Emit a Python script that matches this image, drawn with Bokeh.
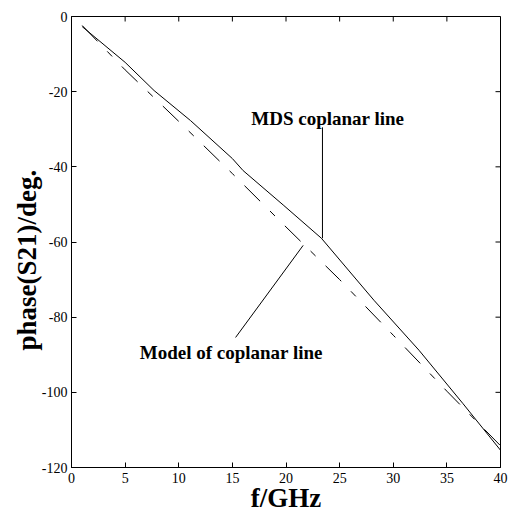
import math
from bokeh.plotting import figure
from bokeh.models import FixedTicker, Range1d, Title
from bokeh.core.properties import value
from bokeh.embed import file_html
from bokeh.resources import INLINE

# MDS coplanar line (solid)
mds_f = [1.0, 5.0, 7.7, 11.1, 15.0, 16.0, 19.8, 23.3, 28.2, 32.4, 36.5, 40.0]
mds_phase = [-2.7, -12.2, -19.7, -27.7, -37.8, -41.0, -50.3, -59.0, -75.5, -88.8, -103.0, -115.4]

# Model of coplanar line (dashed)
model_f = [1, 5, 10, 15, 20, 25, 30, 35, 40]
model_phase = [-2.4, -14.2, -27.9, -41.8, -56.0, -70.0, -84.8, -99.7, -114.2]

x_ticks = [0, 5, 10, 15, 20, 25, 30, 35, 40]
y_ticks = [0, -20, -40, -60, -80, -100, -120]
x_top = [0] * len(x_ticks)
y_right = [40] * len(y_ticks)

# annotations
ann_text = ["MDS coplanar line", "Model of coplanar line"]
ann_x = [23.9, 14.9]
ann_y = [-27.1, -89.4]
leader_x0 = [23.4, 15.3]
leader_y0 = [-29.5, -85.4]
leader_x1 = [23.4, 21.6]
leader_y1 = [-59.0, -60.9]

FONT = "Liberation Serif"

p = figure(width=524, height=515, output_backend="svg", toolbar_location=None,
           x_range=Range1d(0, 40), y_range=Range1d(-120, 0),
           min_border_left=71, min_border_right=24, min_border_top=16, min_border_bottom=48)
p.grid.visible = False
p.outline_line_color = "black"
p.outline_line_width = 1
p.background_fill_color = "white"
p.border_fill_color = "white"

for ax, ticks in ((p.xaxis[0], x_ticks), (p.yaxis[0], y_ticks)):
    ax.ticker = FixedTicker(ticks=ticks)
    ax.major_label_overrides = {t: str(t) for t in ticks}
    ax.minor_tick_line_color = None
    ax.major_tick_in = 5
    ax.major_tick_out = 0
    ax.axis_line_color = "black"
    ax.major_tick_line_color = "black"
    ax.major_label_text_font = FONT
    ax.major_label_text_font_size = "14px"
    ax.major_label_text_color = "black"
p.xaxis[0].major_label_standoff = 5
p.yaxis[0].major_label_standoff = 4

xa = p.xaxis[0]
xa.axis_label = "f/GHz"
xa.axis_label_text_font = FONT
xa.axis_label_text_font_style = "bold"
xa.axis_label_text_font_size = "27px"
xa.axis_label_text_color = "black"
xa.axis_label_standoff = -3

ytitle = Title(text="phase(S21)/deg.", align="left", offset=117, standoff=-7,
               text_font=FONT, text_font_style="bold", text_font_size="27px",
               text_color="black")
p.add_layout(ytitle, "left")

# inward ticks on top and right edges of the box
p.ray(x=x_ticks, y=x_top, length=5, length_units="screen", angle=-math.pi / 2,
      line_color="black", line_width=1)
p.ray(x=y_right, y=y_ticks, length=5, length_units="screen", angle=math.pi,
      line_color="black", line_width=1)

p.line(mds_f, mds_phase, line_color="black", line_width=1)
p.line(model_f, model_phase, line_color="black", line_width=1, line_dash="22 14 7 14")

p.segment(x0=leader_x0, y0=leader_y0, x1=leader_x1, y1=leader_y1, line_color="black", line_width=1)
p.text(x=ann_x, y=ann_y, text=ann_text, text_font=value(FONT), text_font_style="bold",
       text_font_size="19px", text_align="center", text_baseline="alphabetic", text_color="black")

open("out.html", "w").write(file_html(p, INLINE))
